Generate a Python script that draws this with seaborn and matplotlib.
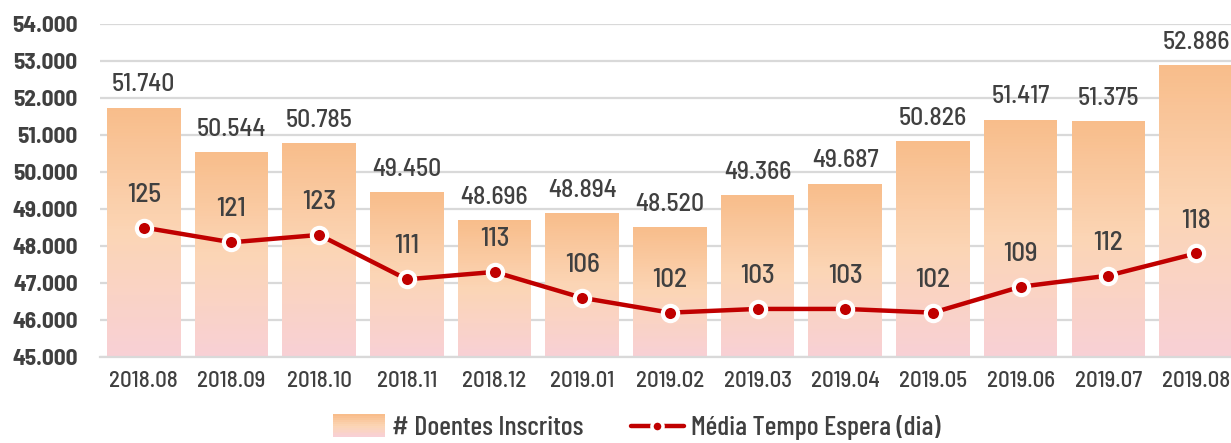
import numpy as np
import pandas as pd
import seaborn as sns
import matplotlib.pyplot as plt
from matplotlib.lines import Line2D
from matplotlib.patches import Rectangle
from matplotlib.legend_handler import HandlerBase
from matplotlib.colors import LinearSegmentedColormap

months = ['2018.08', '2018.09', '2018.10', '2018.11', '2018.12', '2019.01', '2019.02',
          '2019.03', '2019.04', '2019.05', '2019.06', '2019.07', '2019.08']
inscritos = [51740, 50544, 50785, 49450, 48696, 48894, 48520, 49366, 49687, 50826, 51417, 51375, 52886]
tempo_espera = [125, 121, 123, 111, 113, 106, 102, 103, 103, 102, 109, 112, 118]

df = pd.DataFrame({'mes': months, 'inscritos': inscritos, 'tempo': tempo_espera})

sns.set_style('white')
plt.rcParams['font.family'] = ['Barlow Semi Condensed', 'DejaVu Sans']
plt.rcParams['font.weight'] = 'medium'

txt = '#404040'
red = '#C00000'
top_col = '#F8BD8B'
bot_col = '#F8D0D5'
grad = LinearSegmentedColormap.from_list('grad', [bot_col, '#FBD5B5', top_col])

fig = plt.figure(figsize=(12.31, 4.43), dpi=100)
ax = fig.add_axes([0.0812, 0.194, 0.926, 0.752])

sns.barplot(data=df, x='mes', y='inscritos', ax=ax, width=0.84, color=top_col, zorder=2)
ax.set_ylim(45000, 54000)
ax.set_xlim(-0.5, 12.5)

# gradient fill per bar, built from thin slices of each bar
n_slices = 80
for p in list(ax.patches):
    x0, y0 = p.get_x(), p.get_y()
    w, h = p.get_width(), p.get_height()
    top = y0 + h
    edges = np.linspace(45000, top, n_slices + 1)
    for k in range(n_slices):
        c = grad(k / (n_slices - 1))
        hh = edges[k + 1] - edges[k] + (5 if k < n_slices - 1 else 0)
        ax.add_patch(Rectangle((x0, edges[k]), w, hh, facecolor=c, edgecolor='none', zorder=3))
    p.set_visible(False)

for i, v in enumerate(inscritos):
    ax.annotate(f'{v:,}'.replace(',', '.'), (i, v), xytext=(0, 8), textcoords='offset points',
                ha='center', va='bottom', fontsize=18.5, color=txt, zorder=6)

ax.set_yticks(np.arange(45000, 54001, 1000))
ax.set_yticklabels([f'{v:,}'.replace(',', '.') for v in range(45000, 54001, 1000)],
                   fontsize=16.8, color=txt, fontweight='bold')
ax.tick_params(axis='y', length=0, pad=16)
ax.tick_params(axis='x', length=0, pad=10, labelsize=16.5, labelcolor=txt)
ax.yaxis.grid(True, color='#D9D9D9', linewidth=1.6)
for gl in ax.get_ygridlines():
    gl.set_zorder(0)
ax.set_axisbelow(True)
ax.set_xlabel('')
ax.set_ylabel('')
for s in ['top', 'right', 'left']:
    ax.spines[s].set_visible(False)
ax.spines['bottom'].set_color('#D9D9D9')
ax.spines['bottom'].set_linewidth(1.6)
ax.spines['bottom'].set_zorder(4)

ax2 = ax.twinx()
sns.lineplot(x=np.arange(len(months)), y=tempo_espera, ax=ax2, color=red, linewidth=3.2,
             marker='o', markersize=11, markerfacecolor=red, markeredgecolor='white',
             markeredgewidth=3, zorder=5)
ax2.set_ylim(90, 180)
ax2.set_xlim(-0.5, 12.5)
ax2.axis('off')
for i, v in enumerate(tempo_espera):
    ax2.annotate(str(v), (i, v), xytext=(0, 15), textcoords='offset points',
                 ha='center', va='bottom', fontsize=19.5, color=txt)


class GradHandler(HandlerBase):
    def create_artists(self, legend, orig, xd, yd, w, h, fs, trans):
        arts = []
        n = 12
        for k in range(n):
            c = grad(1 - k / (n - 1))
            r = Rectangle((xd, yd + h * 1.1 - (k + 1) * h * 1.2 / n), w, h * 1.2 / n,
                          facecolor=c, edgecolor='none', transform=trans)
            arts.append(r)
        return arts


bar_handle = Rectangle((0, 0), 1, 1)
line_handle = Line2D([], [], color=red, linewidth=3.2, marker='o', markersize=8,
                     markerfacecolor=red, markeredgecolor='white', markeredgewidth=2.5)
fig.legend([bar_handle, line_handle], ['# Doentes Inscritos', 'Média Tempo Espera (dia)'],
           handler_map={Rectangle: GradHandler()}, loc='center', bbox_to_anchor=(0.517, 0.034),
           ncol=2, frameon=False, prop={'family': ['Barlow Condensed', 'DejaVu Sans'],
                                        'size': 20, 'weight': 'medium'},
           labelcolor=txt, handlelength=1.9, handletextpad=0.25, columnspacing=1.7,
           borderpad=0.1)

plt.savefig('out.png', dpi=100)
